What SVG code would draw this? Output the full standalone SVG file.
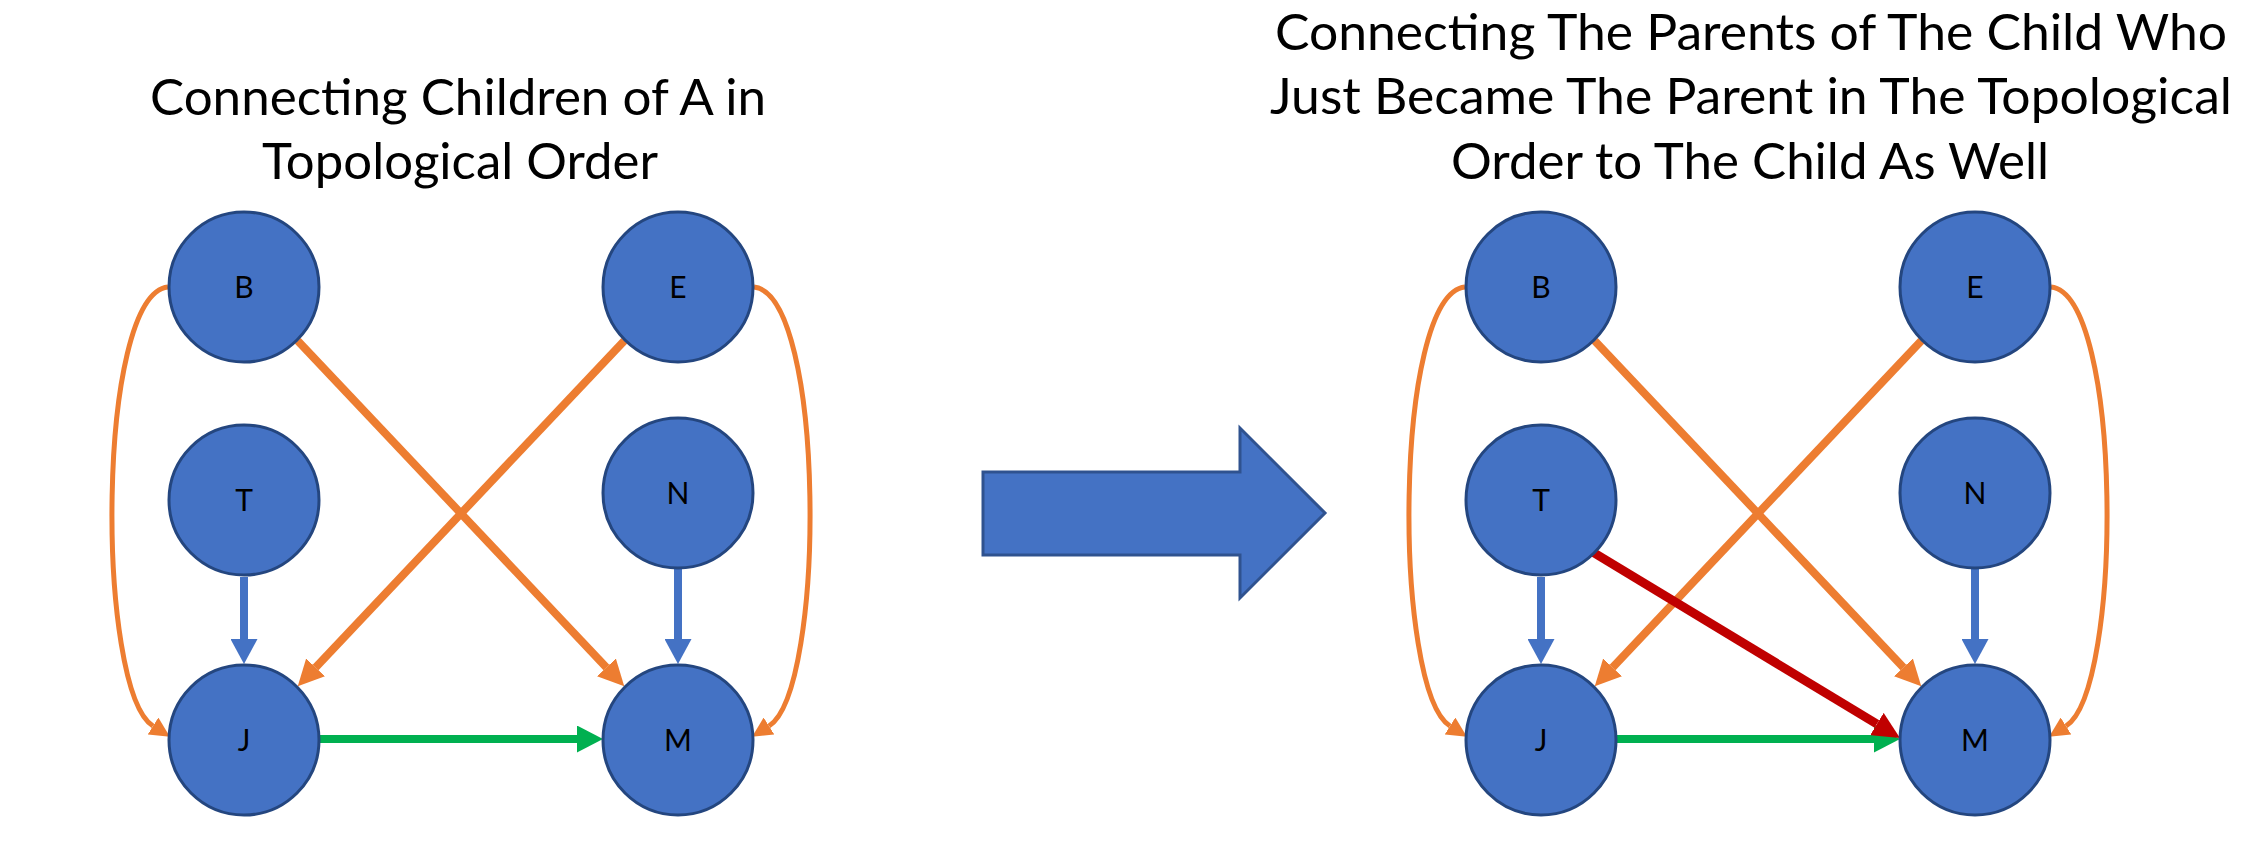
<svg xmlns="http://www.w3.org/2000/svg" width="2267" height="851" viewBox="0 0 2267 851">
<style>
.title{font-family:Lato,"Open Sans","Liberation Sans",sans-serif;font-size:51px;fill:#000;text-anchor:middle}
.node circle{fill:#4472C4;stroke:#24467F;stroke-width:3}
.node text{font-family:Lato,"Open Sans","Liberation Sans",sans-serif;font-size:30px;fill:#000;text-anchor:middle}
.or{stroke:#ED7D31;stroke-width:8;fill:none}
.orc{stroke:#ED7D31;stroke-width:5;fill:none}
.bl{stroke:#4472C4;stroke-width:8;fill:none}
.gr{stroke:#00B050;stroke-width:8;fill:none}
.rd{stroke:#C00000;stroke-width:9;fill:none}
</style>
<defs>
<marker id="hOr" markerUnits="userSpaceOnUse" markerWidth="26" markerHeight="26" refX="0" refY="13" orient="auto"><path d="M0,0 L26,13 L0,26 z" fill="#ED7D31"/></marker>
<marker id="hOrS" markerUnits="userSpaceOnUse" markerWidth="20" markerHeight="20" refX="0" refY="10" orient="auto"><path d="M0,0 L20,10 L0,20 z" fill="#ED7D31"/></marker>
<marker id="hBl" markerUnits="userSpaceOnUse" markerWidth="25" markerHeight="27" refX="0" refY="13.5" orient="auto"><path d="M0,0 L25,13.5 L0,27 z" fill="#4472C4"/></marker>
<marker id="hGr" markerUnits="userSpaceOnUse" markerWidth="26" markerHeight="27" refX="0" refY="13.5" orient="auto"><path d="M0,0 L26,13.5 L0,27 z" fill="#00B050"/></marker>
<marker id="hRd" markerUnits="userSpaceOnUse" markerWidth="27" markerHeight="26" refX="0" refY="13" orient="auto"><path d="M0,0 L27,13 L0,26 z" fill="#C00000"/></marker>
</defs>
<rect width="2267" height="851" fill="#fff"/>
<g id="title-left">
<text class="title" x="458" y="115" textLength="616" lengthAdjust="spacingAndGlyphs">Connecting Children of A in</text>
<text class="title" x="460" y="179" textLength="396" lengthAdjust="spacingAndGlyphs">Topological Order</text>
</g>
<g id="title-right">
<text class="title" x="1751" y="50" textLength="952" lengthAdjust="spacingAndGlyphs">Connecting The Parents of The Child Who</text>
<text class="title" x="1751" y="114" textLength="962" lengthAdjust="spacingAndGlyphs">Just Became The Parent in The Topological</text>
<text class="title" x="1750" y="179" textLength="598" lengthAdjust="spacingAndGlyphs">Order to The Child As Well</text>
</g>
<g id="connectors">
<path class="orc" d="M168,287 C96,295 96,690 153,726" marker-end="url(#hOrS)"/>
<path class="orc" d="M754,287 C826,295 826,690 769,726" marker-end="url(#hOrS)"/>
<line class="or" x1="297.7" y1="340.7" x2="606.4" y2="667.4" marker-end="url(#hOr)"/>
<line class="or" x1="624.3" y1="340.7" x2="315.6" y2="667.4" marker-end="url(#hOr)"/>
<line class="bl" x1="244" y1="577" x2="244" y2="639" marker-end="url(#hBl)"/>
<line class="bl" x1="678" y1="569" x2="678" y2="639" marker-end="url(#hBl)"/>
<line class="gr" x1="320" y1="739" x2="577" y2="739" marker-end="url(#hGr)"/>
<path class="orc" d="M1465,287 C1393,295 1393,690 1450,726" marker-end="url(#hOrS)"/>
<path class="orc" d="M2051,287 C2123,295 2123,690 2066,726" marker-end="url(#hOrS)"/>
<line class="or" x1="1594.7" y1="340.7" x2="1903.4" y2="667.4" marker-end="url(#hOr)"/>
<line class="or" x1="1921.3" y1="340.7" x2="1612.6" y2="667.4" marker-end="url(#hOr)"/>
<line class="bl" x1="1541" y1="577" x2="1541" y2="639" marker-end="url(#hBl)"/>
<line class="bl" x1="1975" y1="569" x2="1975" y2="639" marker-end="url(#hBl)"/>
<line class="gr" x1="1617" y1="739" x2="1874" y2="739" marker-end="url(#hGr)"/>
<line class="rd" x1="1592.6" y1="552" x2="1876.9" y2="724" marker-end="url(#hRd)"/>
</g>
<g id="L-B" class="node"><circle cx="244" cy="287" r="75"/><text x="244" y="298">B</text></g>
<g id="L-E" class="node"><circle cx="678" cy="287" r="75"/><text x="678" y="298">E</text></g>
<g id="L-T" class="node"><circle cx="244" cy="500" r="75"/><text x="244" y="511">T</text></g>
<g id="L-N" class="node"><circle cx="678" cy="493" r="75"/><text x="678" y="504">N</text></g>
<g id="L-J" class="node"><circle cx="244" cy="740" r="75"/><text x="244" y="751">J</text></g>
<g id="L-M" class="node"><circle cx="678" cy="740" r="75"/><text x="678" y="751">M</text></g>
<g id="R-B" class="node"><circle cx="1541" cy="287" r="75"/><text x="1541" y="298">B</text></g>
<g id="R-E" class="node"><circle cx="1975" cy="287" r="75"/><text x="1975" y="298">E</text></g>
<g id="R-T" class="node"><circle cx="1541" cy="500" r="75"/><text x="1541" y="511">T</text></g>
<g id="R-N" class="node"><circle cx="1975" cy="493" r="75"/><text x="1975" y="504">N</text></g>
<g id="R-J" class="node"><circle cx="1541" cy="740" r="75"/><text x="1541" y="751">J</text></g>
<g id="R-M" class="node"><circle cx="1975" cy="740" r="75"/><text x="1975" y="751">M</text></g>
<g id="big-arrow"><polygon points="983,472 1240,472 1240,428 1325,513 1240,598 1240,555 983,555" fill="#4472C4" stroke="#2F528F" stroke-width="3"/></g>
</svg>
